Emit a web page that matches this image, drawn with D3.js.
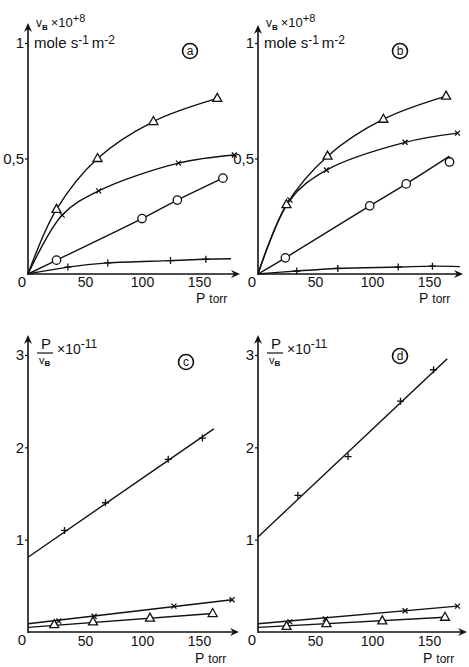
<!DOCTYPE html>
<html><head><meta charset="utf-8">
<script src="https://cdn.jsdelivr.net/npm/d3@7"></script>
<style>
html,body{margin:0;padding:0;background:#fff;}
svg{display:block;}
text{font-family:"Liberation Sans","DejaVu Sans",sans-serif;fill:#111;}
</style></head>
<body>
<script>
// ---- data ----
const xTicks = [50, 100, 150];
const yTicksTop = [0.5, 1];
const yTickLabelsTop = ["0,5", "1"];
const yTicksBottom = [1, 2, 3];
const yTickLabelsBottom = ["1", "2", "3"];

// panel a : vB x 10^8 vs P
const aTriangle = [[25,0.28],[61,0.50],[110,0.66],[166,0.76]];
const aCross    = [[30,0.255],[62,0.36],[132,0.48],[181,0.515]];
const aCircle   = [[25,0.06],[100,0.24],[131,0.32],[171,0.415]];
const aPlus     = [[35,0.03],[70,0.048],[125,0.058],[156,0.064]];
const aPlusEnd  = [178,0.066];

// panel b
const bTriangle = [[25,0.30],[61,0.51],[110,0.67],[165,0.77]];
const bCross    = [[28,0.32],[60,0.45],[129,0.57],[175,0.61]];
const bCircle   = [[24,0.07],[98,0.295],[130,0.39],[168,0.485]];
const bCircleEnd= [168,0.51];
const bPlus     = [[34,0.013],[70,0.024],[123,0.03],[153,0.034]];
const bPlusEnd  = [177,0.032];

// panel c : P/vB x 10^-11 vs P
const cPlusStart = [0,0.81];
const cPlus      = [[32,1.10],[68,1.40],[123,1.87],[153,2.10]];
const cPlusEnd   = [163,2.20];
const cCrossStart= [0,0.09];
const cCross     = [[27,0.12],[58,0.17],[128,0.28],[179,0.35]];
const cTriStart  = [0,0.05];
const cTriangle  = [[23,0.08],[57,0.11],[107,0.15],[162,0.20]];

// panel d
const dPlusStart = [0,1.03];
const dPlus      = [[35,1.48],[79,1.90],[125,2.50],[154,2.84]];
const dPlusEnd   = [166,2.96];
const dCrossStart= [0,0.09];
const dCross     = [[28,0.11],[59,0.14],[129,0.23],[175,0.28]];
const dTriStart  = [0,0.05];
const dTriangle  = [[25,0.06],[60,0.09],[109,0.12],[164,0.16]];

const origin = [0,0];

// ---- layout ----
const svg = d3.select("body").append("svg").attr("width",469).attr("height",667);

const panels = [
  {letter:"a", top:true,  x0:28,  y0:274, yTop:43,  arrowTop:23,  xEnd:240, letterPos:[190,51],
   series:[
     {m:"tri",   pts:aTriangle, line:[origin,...aTriangle], curve:true},
     {m:"cross", pts:aCross,    line:[origin,...aCross], curve:true},
     {m:"circle",pts:aCircle,   line:[origin,...aCircle], curve:true},
     {m:"plus",  pts:aPlus,     line:[origin,...aPlus,aPlusEnd], curve:true}]},
  {letter:"b", top:true,  x0:258, y0:274, yTop:43,  arrowTop:25,  xEnd:463, letterPos:[400,51],
   series:[
     {m:"tri",   pts:bTriangle, line:[origin,...bTriangle], curve:true},
     {m:"cross", pts:bCross,    line:[origin,...bCross], curve:true},
     {m:"circle",pts:bCircle,   line:[origin,...bCircle.slice(0,3),bCircleEnd], curve:true},
     {m:"plus",  pts:bPlus,     line:[origin,...bPlus,bPlusEnd], curve:true}]},
  {letter:"c", top:false, x0:28,  y0:632, yTop:355, arrowTop:335, xEnd:239, letterPos:[186,362],
   series:[
     {m:"plus",  pts:cPlus,     line:[cPlusStart,cPlusEnd], curve:false},
     {m:"cross", pts:cCross,    line:[cCrossStart,cCross[cCross.length-1]], curve:false},
     {m:"tri",   pts:cTriangle, line:[cTriStart,cTriangle[cTriangle.length-1]], curve:false}]},
  {letter:"d", top:false, x0:258, y0:632, yTop:355, arrowTop:335, xEnd:467, letterPos:[400,356],
   series:[
     {m:"plus",  pts:dPlus,     line:[dPlusStart,dPlusEnd], curve:false},
     {m:"cross", pts:dCross,    line:[dCrossStart,dCross[dCross.length-1]], curve:false},
     {m:"tri",   pts:dTriangle, line:[dTriStart,dTriangle[dTriangle.length-1]], curve:false}]}
];

const pxPerTorr = 1.14;

panels.forEach(p => {
  const g = svg.append("g");
  const x = d3.scaleLinear().domain([0,150]).range([p.x0, p.x0 + 150*pxPerTorr]);
  const y = p.top ? d3.scaleLinear().domain([0,1]).range([p.y0, p.yTop])
                  : d3.scaleLinear().domain([0,3]).range([p.y0, p.yTop]);

  // axis lines with arrows
  g.append("line").attr("x1",p.x0).attr("y1",p.y0).attr("x2",p.xEnd-2).attr("y2",p.y0)
    .attr("stroke","#111").attr("stroke-width",1.6);
  g.append("path").attr("d",`M${p.xEnd},${p.y0} L${p.xEnd-9},${p.y0-4} L${p.xEnd-6},${p.y0} L${p.xEnd-9},${p.y0+4} Z`)
    .attr("fill","#111");
  g.append("line").attr("x1",p.x0).attr("y1",p.y0+1).attr("x2",p.x0).attr("y2",p.arrowTop+2)
    .attr("stroke","#111").attr("stroke-width",1.6);
  g.append("path").attr("d",`M${p.x0},${p.arrowTop} L${p.x0-4},${p.arrowTop+9} L${p.x0},${p.arrowTop+6} L${p.x0+4},${p.arrowTop+9} Z`)
    .attr("fill","#111");

  // x axis ticks
  const xa = d3.axisBottom(x).tickValues(xTicks).tickSize(0).tickPadding(p.top ? 3 : 4).tickFormat(d3.format("d"));
  const xg = g.append("g").attr("transform",`translate(0,${p.y0})`).call(xa);
  xg.select(".domain").remove();
  xg.selectAll("text").attr("font-size",14).attr("font-family","Liberation Sans, sans-serif").attr("fill","#111");

  // y axis ticks
  const yv = p.top ? yTicksTop : yTicksBottom;
  const yl = p.top ? yTickLabelsTop : yTickLabelsBottom;
  const ya = d3.axisLeft(y).tickValues(yv).tickSize(3).tickPadding(1).tickFormat((d,i)=>yl[i]);
  const yg = g.append("g").attr("transform",`translate(${p.x0},0)`).call(ya);
  yg.select(".domain").remove();
  yg.selectAll("line").attr("stroke","#111").attr("stroke-width",1.2);
  yg.selectAll("text").attr("font-size",15).attr("font-family","Liberation Sans, sans-serif").attr("fill","#111");

  // origin 0
  g.append("text").attr("x",p.x0-6).attr("y",p.y0+13).attr("text-anchor","middle")
    .attr("font-size",15).text("0");

  // P torr
  const pt = g.append("text").attr("x",p.xEnd-44).attr("y",p.y0 + (p.top ? 29 : 31)).attr("font-size",14);
  pt.append("tspan").text("P");
  pt.append("tspan").attr("font-size",12).attr("dx",4).text("torr");

  // y label
  if (p.top) {
    const t1 = g.append("text").attr("x",p.x0+8).attr("y",p.arrowTop+ (p.letter==="a"?4:2)).attr("font-size",12);
    t1.append("tspan").text("v");
    t1.append("tspan").attr("font-size",8).attr("dy",3).attr("font-weight","bold").text("B");
    t1.append("tspan").attr("font-size",13).attr("dy",-3).attr("dx",3).text("×10");
    t1.append("tspan").attr("font-size",11).attr("dy",-5).text("+8");
    const t2 = g.append("text").attr("x",p.x0+6).attr("y",p.yTop+5).attr("font-size",15);
    t2.append("tspan").text("mole s");
    t2.append("tspan").attr("font-size",12).attr("dy",-4).text("-1");
    t2.append("tspan").attr("dy",4).attr("dx",3).text("m");
    t2.append("tspan").attr("font-size",12).attr("dy",-4).text("-2");
  } else {
    g.append("text").attr("x",p.x0+13).attr("y",p.arrowTop+14).attr("font-size",15).text("P");
    g.append("line").attr("x1",p.x0+9).attr("x2",p.x0+25).attr("y1",p.arrowTop+18).attr("y2",p.arrowTop+18)
      .attr("stroke","#111").attr("stroke-width",1.2);
    const tv = g.append("text").attr("x",p.x0+11).attr("y",p.arrowTop+29).attr("font-size",11);
    tv.append("tspan").text("v");
    tv.append("tspan").attr("font-size",8).attr("dy",2).attr("font-weight","bold").text("B");
    const tx = g.append("text").attr("x",p.x0+29).attr("y",p.arrowTop+19).attr("font-size",14);
    tx.append("tspan").text("×10");
    tx.append("tspan").attr("font-size",12).attr("dy",-6).text("-11");
  }

  // panel letter
  g.append("circle").attr("cx",p.letterPos[0]).attr("cy",p.letterPos[1]).attr("r",7.5)
    .attr("fill","none").attr("stroke","#111").attr("stroke-width",1.6);
  g.append("text").attr("x",p.letterPos[0]).attr("y",p.letterPos[1]+4).attr("text-anchor","middle")
    .attr("font-size",12).text(p.letter);

  // lines
  p.series.forEach(s => {
    const ln = d3.line().x(d=>x(d[0])).y(d=>y(d[1]))
      .curve(s.curve ? d3.curveCatmullRom.alpha(0.5) : d3.curveLinear);
    g.append("path").attr("d",ln(s.line)).attr("fill","none")
      .attr("stroke","#111").attr("stroke-width",1.4);
  });
  // markers
  p.series.forEach(s => {
    s.pts.forEach(d => {
      const cx = x(d[0]), cy = y(d[1]);
      if (s.m === "tri") {
        g.append("path").attr("d",`M${cx},${cy-5} L${cx+4.5},${cy+3} L${cx-4.5},${cy+3} Z`)
          .attr("fill","#fff").attr("stroke","#111").attr("stroke-width",1.3);
      } else if (s.m === "circle") {
        g.append("circle").attr("cx",cx).attr("cy",cy).attr("r",4.2)
          .attr("fill","#fff").attr("stroke","#111").attr("stroke-width",1.3);
      } else if (s.m === "cross") {
        g.append("path").attr("d",`M${cx-2.5},${cy-2.5}L${cx+2.5},${cy+2.5}M${cx-2.5},${cy+2.5}L${cx+2.5},${cy-2.5}`)
          .attr("stroke","#111").attr("stroke-width",1.3);
      } else {
        g.append("path").attr("d",`M${cx-3.5},${cy}L${cx+3.5},${cy}M${cx},${cy-3.5}L${cx},${cy+3.5}`)
          .attr("stroke","#111").attr("stroke-width",1.3);
      }
    });
  });
});
</script>
</body></html>
